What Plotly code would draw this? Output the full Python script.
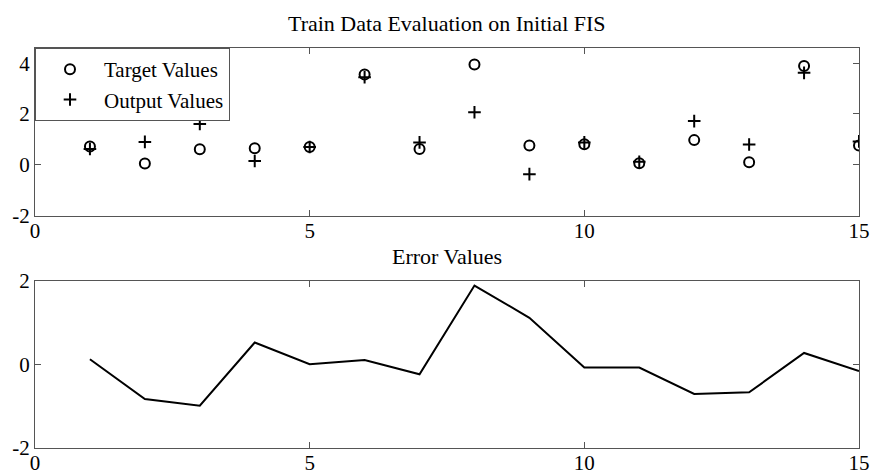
import plotly.graph_objects as go
from plotly.subplots import make_subplots

x_index = list(range(1, 16))
target_values = [0.72, 0.05, 0.61, 0.65, 0.70, 3.56, 0.62, 3.95, 0.76, 0.81, 0.06, 0.97, 0.10, 3.89, 0.76]
output_values = [0.62, 0.90, 1.61, 0.15, 0.70, 3.45, 0.88, 2.07, -0.37, 0.88, 0.12, 1.72, 0.80, 3.62, 0.92]
error_values = [0.12, -0.83, -0.99, 0.52, 0.00, 0.10, -0.24, 1.88, 1.11, -0.08, -0.08, -0.71, -0.67, 0.27, -0.16]

x_ticks = [0, 5, 10, 15]
x_tick_labels = ["0", "5", "10", "15"]
top_y_ticks = [-2, 0, 2, 4]
top_y_tick_labels = ["-2", "0", "2", "4"]
bottom_y_ticks = [-2, 0, 2]
bottom_y_tick_labels = ["-2", "0", "2"]

title_top = "Train Data Evaluation on Initial FIS"
title_bottom = "Error Values"

FONT = "Liberation Serif, Times New Roman, serif"
FRAME = "#555555"

fig = make_subplots(rows=2, cols=1, vertical_spacing=0.1625)

fig.add_trace(go.Scatter(x=x_index, y=target_values, mode="markers", name="Target Values",
                         marker=dict(symbol="circle-open", size=10, color="black",
                                     line=dict(width=2, color="black"))), row=1, col=1)
fig.add_trace(go.Scatter(x=x_index, y=output_values, mode="markers", name="Output Values",
                         marker=dict(symbol="cross-thin-open", size=9, color="black",
                                     line=dict(width=2, color="black"))), row=1, col=1)
fig.add_trace(go.Scatter(x=x_index, y=error_values, mode="lines", showlegend=False,
                         line=dict(color="black", width=2)), row=2, col=1)

axis_common = dict(showgrid=False, zeroline=False, showline=True, linecolor=FRAME, linewidth=1,
                   mirror="allticks", ticks="inside", ticklen=6, tickcolor=FRAME, automargin=False,
                   ticklabeloverflow="allow",
                   tickfont=dict(family=FONT, size=21, color="black"))

fig.update_xaxes(range=[0, 15], tickvals=x_ticks, ticktext=x_tick_labels,
                 ticklabelstandoff=-4, **axis_common)
fig.update_yaxes(range=[-2, 4.6], tickvals=top_y_ticks, ticktext=top_y_tick_labels,
                 row=1, col=1, **axis_common)
fig.update_yaxes(range=[-2, 2], tickvals=bottom_y_ticks, ticktext=bottom_y_tick_labels,
                 row=2, col=1, **axis_common)

fig.update_layout(
    width=870, height=475,
    margin=dict(l=35, r=11, t=48, b=27),
    paper_bgcolor="white", plot_bgcolor="white",
    font=dict(family=FONT, size=21, color="black"),
    showlegend=True,
    legend=dict(x=0, y=1, xanchor="left", yanchor="top", bgcolor="white",
                bordercolor=FRAME, borderwidth=1, itemwidth=58,
                font=dict(family=FONT, size=21, color="black"), tracegroupgap=0),
    annotations=[
        dict(text=title_top, x=0.5, y=1, xref="paper", yref="paper", xanchor="center",
             yanchor="bottom", yshift=10, showarrow=False, font=dict(family=FONT, size=22)),
        dict(text=title_bottom, x=0.5, y=0.42, xref="paper", yref="paper", xanchor="center",
             yanchor="bottom", yshift=9, showarrow=False, font=dict(family=FONT, size=22)),
    ],
)

fig.write_html(
    "out.html",
    config={"displayModeBar": False},
    post_script="document.body.style.margin='0';"
                "document.documentElement.style.overflow='hidden';"
                "document.body.style.overflow='hidden';",
)
